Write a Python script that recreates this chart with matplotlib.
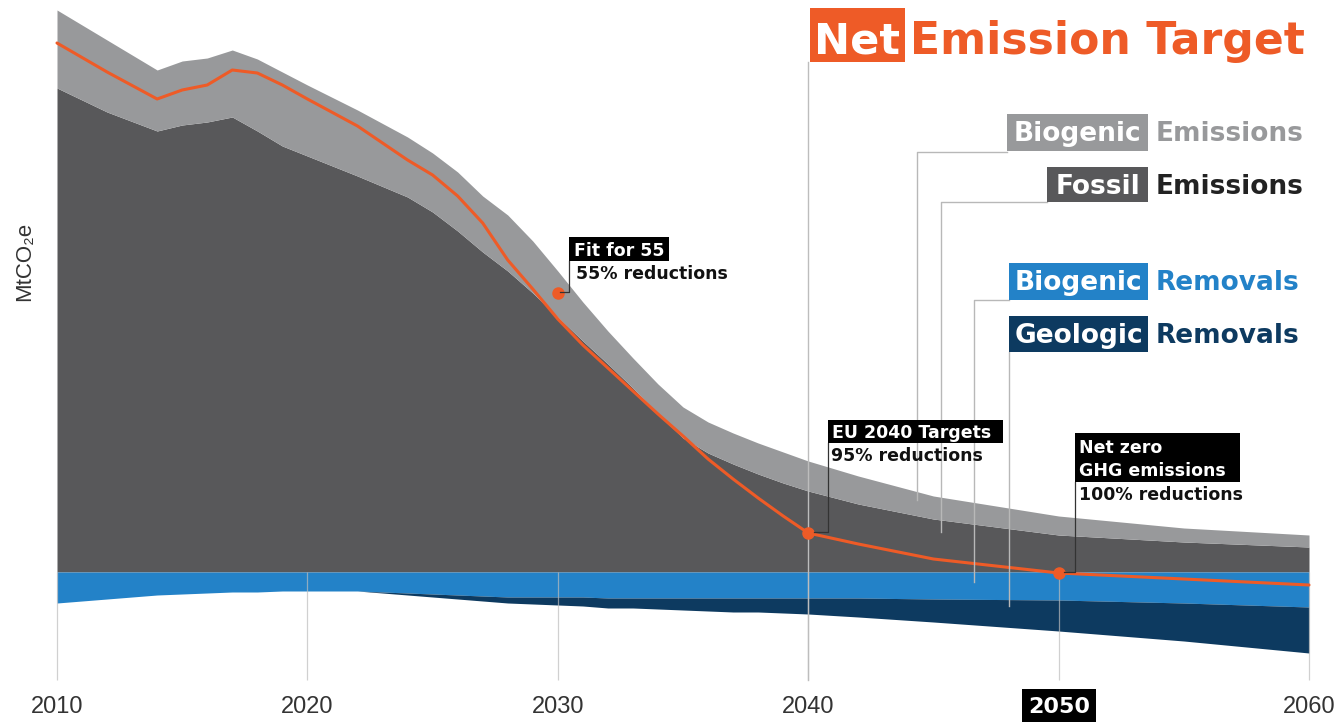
import numpy as np
import matplotlib
matplotlib.use("Agg")
import matplotlib.pyplot as plt
import matplotlib.transforms as mtransforms
from matplotlib.patches import Rectangle
from matplotlib.lines import Line2D

# --- data (arbitrary MtCO2e-like units) ---
years = [2010, 2012, 2014, 2015, 2016, 2017, 2018, 2019, 2020, 2022,
         2024, 2025, 2026, 2027, 2028, 2029, 2030, 2031, 2032, 2033,
         2034, 2035, 2036, 2037, 2038, 2039, 2040, 2042, 2045, 2050,
         2055, 2060]
fossil = [484, 460, 441, 447, 450, 455, 441, 426, 416, 396,
          375, 360, 341, 320, 301, 279, 255, 231, 208, 184,
          158, 134, 119, 108, 98, 89, 81, 68, 53, 37,
          30, 25]
biogenic = [78, 72, 61, 64, 64, 67, 72, 74, 71, 66,
            60, 59, 59, 56, 56, 52, 46, 39, 33, 30,
            30, 31, 31, 31, 31, 31, 30, 28, 23, 19,
            14, 12]
bio_removals = [31, 27, 23, 22, 21, 20, 20, 19, 19, 19,
                21, 22, 23, 24, 25, 25, 25, 25, 26, 26,
                26, 26, 26, 26, 26, 26, 26, 26, 27, 28,
                31, 35]
geo_removals = [0, 0, 0, 0, 0, 0, 0, 0, 0, 0,
                2, 3, 4, 5, 6, 7, 8, 9, 10, 10,
                11, 12, 13, 14, 14, 15, 16, 19, 23, 31,
                38, 46]
net = [529, 500, 473, 482, 487, 502, 499, 487, 473, 446,
       412, 397, 376, 349, 312, 283, 253, 227, 204, 181,
       158, 136, 113, 93, 74, 56, 39, 28, 13, -1,
       -7, -13]
target_years = [2030, 2040, 2050]
target_vals = [279, 39, -1]
decades = [2010, 2020, 2030, 2040, 2050, 2060]

# colours
c_bio = "#98999b"
c_fos = "#58585a"
c_brem = "#2382c8"
c_grem = "#0d3a60"
c_org = "#ee5b27"

W, H = 1340, 724
fig = plt.figure(figsize=(W / 100, H / 100), dpi=100)
ax = fig.add_axes([0, 0, 1, 1])
ax.set_xlim(2010 - 57 / 25.04, 2060 + 31 / 25.04)
ax.set_ylim(-152, 572)
ax.axis("off")

# pixel coords (origin top-left) for the decorations
px = mtransforms.Affine2D().scale(1 / W, -1 / H).translate(0, 1) + fig.transFigure
xpx = mtransforms.blended_transform_factory(ax.transData, px)

yr = np.array(years)
fos = np.array(fossil)
tot = fos + np.array(biogenic)
brem = -np.array(bio_removals)
grem = brem - np.array(geo_removals)

ax.fill_between(yr, 0, fos, color=c_fos, lw=0, zorder=2)
ax.fill_between(yr, fos, tot, color=c_bio, lw=0, zorder=2)
ax.fill_between(yr, 0, brem, color=c_brem, lw=0, zorder=2)
ax.fill_between(yr, brem, grem, color=c_grem, lw=0, zorder=2)

# decade guide lines
ax.vlines(decades, -108, 0, colors="#bdbdbd", lw=0.9, alpha=0.7, zorder=3)
ax.plot([2040, 2040], [62, 680], transform=xpx, color="#bdbdbd", lw=1.0, zorder=3)

ax.plot(yr, net, color=c_org, lw=2.2, zorder=4, solid_capstyle="round")
ax.plot(target_years, target_vals, "o", color=c_org, ms=8, zorder=5)

bold = dict(family="DejaVu Sans", weight="bold")


def box(x0, y0, x1, y1, color):
    fig.add_artist(Rectangle((x0, y0), x1 - x0, y1 - y0, transform=px,
                             fc=color, ec="none", zorder=6))


def line(xs, ys, color, lw=1.0, z=5):
    fig.add_artist(Line2D(xs, ys, transform=px, color=color, lw=lw, zorder=z))


def txt(x, y, s, color, size, ha="left", va="baseline", **kw):
    fig.text(x, y, s, transform=px, color=color, fontsize=size, ha=ha, va=va,
             zorder=7, **kw)


# title
box(810, 8, 905, 62, c_org)
txt(857, 54, "Net", "white", 31, ha="center", **bold)
txt(910, 54, "Emission Target", c_org, 31.8, **bold)

# legend labels with callouts
legend = [
    ("Biogenic", "Emissions", c_bio, c_bio, 1007, 114, 151),
    ("Fossil", "Emissions", c_fos, "#222222", 1047, 167, 202),
    ("Biogenic", "Removals", c_brem, c_brem, 1009, 263, 300),
    ("Geologic", "Removals", c_grem, c_grem, 1009, 316, 352),
]
for lab, rest, bc, tc, x0, y0, y1 in legend:
    box(x0, y0, 1148, y1, bc)
    txt((x0 + 1148) / 2, y0 + 27, lab, "white", 19, ha="center", **bold)
    txt(1156, y0 + 27, rest, tc, 19, **bold)

gl = "#b8b8b8"
line([1007, 917, 917], [152, 152, 500], gl)
line([1047, 941, 941], [202, 202, 532], gl)
line([1009, 974, 974], [300, 300, 582], gl)
line([1009, 1009], [352, 606], gl)

# milestone annotations
box(569, 237, 669, 261, "black")
txt(574, 256, "Fit for 55", "white", 12.5, **bold)
txt(576, 279, "55% reductions", "#111111", 12.5, **bold)
line([569, 569, 560], [261, 292, 292], "#333333", 0.9)

box(828, 420, 1003, 443, "black")
txt(832, 438, "EU 2040 Targets", "white", 12.5, **bold)
txt(831, 461, "95% reductions", "#111111", 12.5, **bold)
line([828, 828, 814], [443, 532, 532], "#333333", 0.9)

box(1075, 433, 1240, 482, "black")
txt(1079, 453, "Net zero", "white", 12.5, **bold)
txt(1079, 476, "GHG emissions", "white", 12.5, **bold)
txt(1079, 500, "100% reductions", "#111111", 12.5, **bold)
line([1075, 1075, 1064], [482, 572, 572], "#333333", 0.9)

# x labels
for d in decades:
    if d == 2050:
        continue
    ax.text(d, 707, str(d), transform=xpx, ha="center", va="center",
            fontsize=17, color="#333333", family="Liberation Sans")
box(1022, 689, 1096, 722, "black")
txt(1059, 707, "2050", "white", 16, ha="center", va="center", **bold)

# y axis label
txt(25, 261, "MtCO\u2082e", "#333333", 16, ha="center", va="center",
    rotation=90, family="Liberation Sans")

fig.savefig("out.png", dpi=100)
